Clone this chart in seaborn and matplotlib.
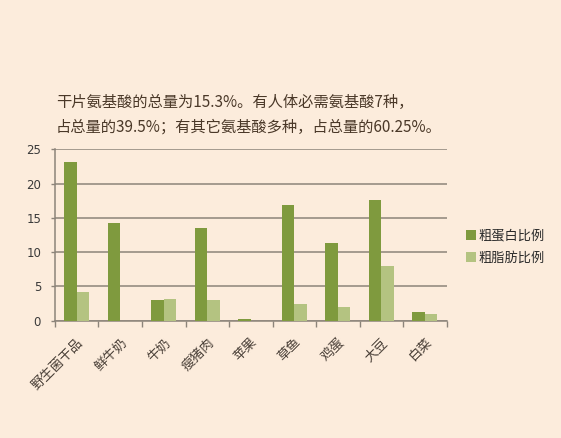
import matplotlib
matplotlib.use("Agg")
import matplotlib.pyplot as plt
import seaborn as sns
import pandas as pd

categories = ["野生菌干品", "鲜牛奶", "牛奶", "瘦猪肉", "苹果", "草鱼", "鸡蛋", "大豆", "白菜"]
protein = [23.2, 14.2, 3.0, 13.5, 0.2, 16.9, 11.3, 17.6, 1.3]
fat = [4.2, 0.0, 3.1, 3.0, 0.0, 2.4, 2.0, 7.9, 1.0]
series_names = ["粗蛋白比例", "粗脂肪比例"]
yticks = [0, 5, 10, 15, 20, 25]
title_lines = ["干片氨基酸的总量为15.3%。有人体必需氨基酸7种，",
               "占总量的39.5%；有其它氨基酸多种，占总量的60.25%。"]

bg = "#fcecdc"
colors = ["#7f9a3e", "#b4c381"]

df = pd.DataFrame({
    "category": categories * 2,
    "value": protein + fat,
    "series": [series_names[0]] * len(categories) + [series_names[1]] * len(categories),
})

sns.set_theme(style="white")
plt.rcParams['font.family'] = ['Noto Sans CJK SC', 'DejaVu Sans']

fig = plt.figure(figsize=(5.61, 4.38), dpi=100, facecolor=bg)
ax = fig.add_axes([0.098, 0.268, 0.698, 0.391])
ax.set_facecolor(bg)

sns.barplot(data=df, x="category", y="value", hue="series", order=categories,
            hue_order=series_names, palette=colors, width=0.57, saturation=1,
            linewidth=0, ax=ax, zorder=3)

ax.set_ylim(0, 25)
ax.set_xlim(-0.5, len(categories) - 0.5)
ax.set_yticks(yticks)
ax.set_yticklabels([str(v) for v in yticks], fontsize=8.5, color="#3a3a3a", family="DejaVu Sans")
ax.yaxis.grid(True, color="#8c847a", linewidth=1.1, zorder=0)
ax.xaxis.grid(False)
ax.set_axisbelow(True)

ax.set_xticks(range(len(categories)))
ax.set_xticklabels(categories, rotation=45, ha="right", rotation_mode="anchor",
                   fontsize=9.5, color="#4a4038")
ax.set_xticks([i + 0.5 for i in range(-1, len(categories))], minor=True)
ax.tick_params(axis="x", which="major", length=0, pad=11)
ax.tick_params(axis="x", which="minor", length=4, width=1, color="#8c847a", direction="out", bottom=True)
ax.tick_params(axis="y", length=3, width=1, color="#8c847a", left=True, pad=7)

ax.set_xlabel("")
ax.set_ylabel("")
for s in ["top", "right"]:
    ax.spines[s].set_visible(False)
for s in ["left", "bottom"]:
    ax.spines[s].set_color("#8c847a")
    ax.spines[s].set_linewidth(1.1)

leg = ax.legend(loc="center left", bbox_to_anchor=(1.02, 0.43), frameon=False,
                fontsize=9.5, handlelength=0.75, handleheight=0.75, handletextpad=0.2,
                labelspacing=0.7)
for t in leg.get_texts():
    t.set_color("#2a2a2a")

fig.text(0.100, 0.765, title_lines[0], fontsize=11, color="#4a3828", va="center", ha="left")
fig.text(0.100, 0.71, title_lines[1], fontsize=11, color="#4a3828", va="center", ha="left")

fig.savefig("out.png", dpi=100, facecolor=bg)
